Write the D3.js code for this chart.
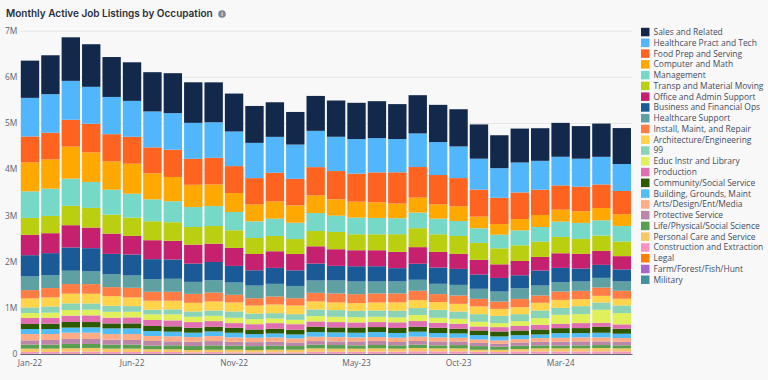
<!DOCTYPE html>
<html>
<head>
<meta charset="utf-8">
<script src="https://cdn.jsdelivr.net/npm/d3@7"></script>
<style>
  html, body { margin: 0; padding: 0; background: #f8f8f8; overflow: hidden; }
  text { font-family: "Open Sans", "Noto Sans", sans-serif; }
</style>
</head>
<body>
<div id="chart"></div>
<script>
// months on the x axis, Jan-22 through Jun-24
const months = ["Jan-22","Feb-22","Mar-22","Apr-22","May-22","Jun-22","Jul-22","Aug-22","Sep-22","Oct-22","Nov-22","Dec-22",
  "Jan-23","Feb-23","Mar-23","Apr-23","May-23","Jun-23","Jul-23","Aug-23","Sep-23","Oct-23","Nov-23","Dec-23",
  "Jan-24","Feb-24","Mar-24","Apr-24","May-24","Jun-24"];
const monthTicks = ["Jan-22","Jun-22","Nov-22","May-23","Oct-23","Mar-24"];
const yTicks = [0, 1e6, 2e6, 3e6, 4e6, 5e6, 6e6, 7e6];

// listings in thousands
const sales = [806,842,943,922,864,835,850,864,878,864,821,799,749,706,756,785,785,799,756,828,806,806,742,713,734,706,734,706,720,778];
const healthPract = [835,835,842,799,806,778,778,792,778,770,749,763,778,742,785,742,749,742,720,727,713,684,670,641,648,626,619,605,598,583];
const foodPrep = [562,576,583,619,590,583,562,590,562,576,583,569,619,576,612,612,605,648,677,662,634,612,583,569,576,547,526,533,511,504];
const computer = [626,634,691,641,612,648,562,526,482,468,410,367,374,374,382,353,346,338,317,324,310,317,252,230,245,259,259,252,266,252];
const management = [576,590,590,562,540,518,475,454,432,432,396,360,374,353,389,353,360,353,346,338,338,324,317,295,324,317,331,346,331,338];
const transp = [367,374,418,425,410,396,410,403,382,382,382,346,331,324,331,374,346,346,382,410,382,389,367,346,338,331,353,324,331,317];
const office = [439,432,482,446,439,403,410,403,410,396,389,353,360,353,374,360,346,346,353,360,338,324,317,295,310,295,317,317,302,288];
const business = [461,475,504,504,439,454,432,418,396,396,360,331,346,338,367,317,331,331,288,346,353,346,310,295,281,324,310,281,281,259];
const healthSupport = [295,281,288,274,281,266,274,281,259,266,266,274,274,266,266,281,274,259,259,238,223,230,216,216,230,216,202,202,209,202];
const install = [180,202,209,209,194,209,194,194,194,194,166,158,173,158,187,194,194,194,194,202,173,180,166,158,180,158,180,180,180,173];
const architecture = [194,194,209,209,209,187,194,187,187,194,194,173,187,187,173,166,166,173,180,173,166,166,166,151,151,166,173,151,144,144];
const code99 = [122,137,144,137,130,122,101,108,115,115,137,122,115,122,144,144,137,137,144,151,173,158,166,158,151,166,151,173,158,166];
const education = [108,108,122,122,130,122,122,130,115,115,115,108,101,94,115,115,115,115,108,130,108,108,101,86,101,144,194,194,281,245];
const production = [130,130,137,144,122,130,130,130,122,122,101,115,122,122,115,115,108,108,122,122,108,108,86,94,101,101,94,108,86,94];
const community = [108,115,122,115,108,108,108,115,108,101,108,101,101,101,115,108,115,108,108,108,115,101,101,108,101,108,108,108,130,108];
const building = [108,108,108,115,122,122,108,101,94,101,101,79,86,86,101,101,101,108,101,108,94,94,94,86,86,79,101,94,101,94];
const arts = [137,130,137,137,122,130,108,108,101,108,94,94,94,86,94,94,86,86,94,94,86,79,72,72,72,79,86,86,86,79];
const protective = [94,101,108,108,108,101,101,86,94,94,86,86,86,79,79,79,86,86,72,79,86,79,72,65,72,79,86,86,79,79];
const life = [86,86,94,86,86,86,79,86,86,94,86,86,86,79,79,79,72,72,72,72,65,72,79,65,72,65,58,65,65,65];
const personal = [72,72,72,79,72,72,58,58,50,50,58,50,58,58,72,65,65,72,65,72,65,65,43,50,50,65,65,65,72,65];
const construction = [29,29,36,36,29,29,29,29,22,29,22,22,22,22,36,36,36,36,36,43,43,43,36,29,43,43,43,43,43,43];
const legal = [7,7,8,8,7,7,7,7,6,6,6,6,6,6,7,7,7,7,7,7,6,6,6,6,6,6,6,6,6,6];
const farm = [4,4,4,4,4,4,4,4,4,3,3,3,3,3,3,3,3,4,4,4,4,3,3,3,3,3,3,4,4,4];
const military = [4,4,4,4,4,4,4,4,4,4,4,4,4,4,4,4,4,4,4,4,4,4,4,4,4,4,4,4,4,4];

// legend order is top of the stack first
const occupations = ["Sales and Related","Healthcare Pract and Tech","Food Prep and Serving","Computer and Math","Management",
  "Transp and Material Moving","Office and Admin Support","Business and Financial Ops","Healthcare Support","Install, Maint, and Repair",
  "Architecture/Engineering","99","Educ Instr and Library","Production","Community/Social Service","Building, Grounds, Maint",
  "Arts/Design/Ent/Media","Protective Service","Life/Physical/Social Science","Personal Care and Service",
  "Construction and Extraction","Legal","Farm/Forest/Fish/Hunt","Military"];
const seriesValues = [sales,healthPract,foodPrep,computer,management,transp,office,business,healthSupport,install,
  architecture,code99,education,production,community,building,arts,protective,life,personal,construction,legal,farm,military];
const colors = ["#12294b","#52b6fd","#ff6320","#ffa800","#76d9c8","#b9cf10","#c6216f","#1a5a96","#5fa0a3","#ff7c45",
  "#ffd34a","#8bd3b5","#dff05a","#e06fb0","#2d5a00","#52bdf5","#ffab86","#bb87a8","#5a9f50","#f8c765",
  "#f993c4","#ff8000","#aa66cc","#45919f"];

const width = 768, height = 380;
const margin = { top: 30.6, right: 136, bottom: 26, left: 19.8 };

const svg = d3.select("#chart").append("svg")
  .attr("width", width)
  .attr("height", height)
  .style("display", "block");

// table for d3.stack, one row per month
const rows = months.map((m, i) => {
  const row = { month: m };
  occupations.forEach((o, j) => { row[o] = seriesValues[j][i] * 1000; });
  return row;
});

// bottom of the stack is the end of the legend
const stacked = d3.stack().keys(occupations.slice().reverse())(rows);

const x = d3.scaleBand()
  .domain(months)
  .range([margin.left, width - margin.right])
  .paddingInner(0.1)
  .paddingOuter(0.05);

const y = d3.scaleLinear()
  .domain([0, 7e6])
  .range([height - margin.bottom, margin.top]);

const color = d3.scaleOrdinal().domain(occupations).range(colors);

// y axis + gridlines
const yAxis = svg.append("g")
  .attr("transform", `translate(${margin.left},0)`)
  .call(d3.axisLeft(y).tickValues(yTicks).tickSize(0).tickPadding(2.5)
    .tickFormat(d => d === 0 ? "0" : (d / 1e6) + "M"));
yAxis.select(".domain").remove();
yAxis.selectAll("text")
  .attr("fill", "#5b6270")
  .style("font-size", "8.4px");
yAxis.selectAll("line")
  .attr("x2", width - margin.right - margin.left)
  .attr("stroke", d => d === 0 ? "none" : "#e6e6e6")
  .attr("stroke-width", 1);

// bars
svg.append("g")
  .selectAll("g")
  .data(stacked)
  .enter()
  .append("g")
  .attr("fill", d => color(d.key))
  .selectAll("rect")
  .data(d => d)
  .enter()
  .append("rect")
  .attr("x", d => x(d.data.month))
  .attr("y", d => y(d[1]))
  .attr("width", x.bandwidth())
  .attr("height", d => y(d[0]) - y(d[1]));

// x axis
const xAxis = svg.append("g")
  .attr("transform", `translate(0,${height - margin.bottom})`)
  .call(d3.axisBottom(x).tickValues(monthTicks).tickSize(0).tickPadding(6));
xAxis.select(".domain")
  .attr("stroke", "#5b6478")
  .attr("stroke-width", 1);
xAxis.selectAll("text")
  .attr("fill", "#5b6270")
  .style("font-size", "8.4px");

// title
svg.append("text")
  .attr("x", 6)
  .attr("y", 17)
  .style("font-family", "Inter")
  .style("font-size", "10px")
  .style("font-weight", "600")
  .attr("fill", "#2a2f3a")
  .text("Monthly Active Job Listings by Occupation");

// info icon next to the title
svg.append("circle")
  .attr("cx", 222)
  .attr("cy", 14)
  .attr("r", 3.8)
  .attr("fill", "#7f8599");
svg.append("text")
  .attr("x", 222)
  .attr("y", 16.2)
  .attr("text-anchor", "middle")
  .style("font-size", "5.5px")
  .style("font-weight", "700")
  .attr("fill", "#f8f8f8")
  .text("i");

// legend
const legend = svg.append("g")
  .selectAll("g")
  .data(occupations)
  .enter()
  .append("g")
  .attr("transform", (d, i) => `translate(641,${32 + i * 10.77})`);
legend.append("rect")
  .attr("x", 0)
  .attr("y", -4.2)
  .attr("width", 8.5)
  .attr("height", 8.5)
  .attr("fill", d => color(d));
legend.append("text")
  .attr("x", 12.5)
  .attr("y", 3)
  .style("font-size", "8.45px")
  .attr("fill", "#434c5e")
  .text(d => d);
</script>
</body>
</html>
